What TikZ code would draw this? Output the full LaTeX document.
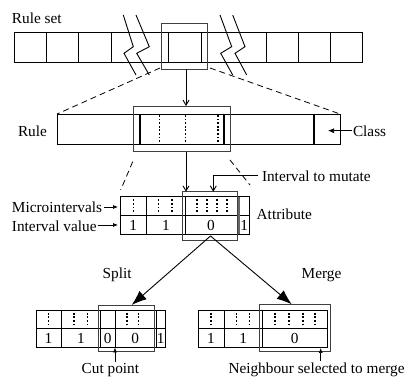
\documentclass[tikz,border=0pt]{standalone}
\usepackage{fontspec}
\setmainfont{Liberation Serif}
\usetikzlibrary{arrows.meta,fit,calc}
\begin{document}
\begin{tikzpicture}[x=1pt,y=-1pt,line width=0.9pt,
  lbl/.style={font=\fontsize{15.3}{18}\selectfont, inner sep=0pt, outer sep=0pt, anchor=base west},
  num/.style={lbl, anchor=base},
  hl/.style={draw=black!75, line width=0.9pt, inner sep=0pt, outer sep=0pt},
  plainbox/.style={draw, inner sep=0pt, outer sep=0pt},
  dots/.style={line width=1.6pt, dash pattern=on 1.8pt off 1.8pt},
  heavy/.style={line width=2.2pt},
  zoomline/.style={line width=0.8pt, dash pattern=on 6pt off 4pt},
  vtip/.style={-{Straight Barb[length=5pt,width=6pt]}},
  ptr/.style={-{Latex[length=5pt,width=4pt]}, line width=0.7pt},
  bigtip/.style={-{Latex[length=15pt,width=11pt]}, line width=0.9pt}]
\useasboundingbox (0,0) rectangle (413,379);

% ---------- rule set ----------
\node[lbl] (rulesetlbl) at (12,24) {Rule set};
\coordinate (rs1) at (14,32); \coordinate (rs2) at (362,62);
\node[plainbox, fit=(rs1)(rs2)] (ruleset) {};
\foreach \x in {46,78,111,168,201,266,298,330} \draw (\x,32) -- (\x,62);
% break marks
\draw (123.3,15)--(133.3,46.7)--(124,53.3)--(136,75);
\draw (136,15)--(149.3,46.7)--(136.7,53.3)--(149.3,75);
\draw (220,15)--(231.7,46.7)--(220.7,53.3)--(232.7,75);
\draw (232.7,15)--(245,46.7)--(235,53.3)--(246.7,75);
% selected rule
\coordinate (sc1) at (161.7,23.3); \coordinate (sc2) at (207.3,69.3);
\node[hl, fit=(sc1)(sc2)] (selcell) {};

% ---------- one rule ----------
\node[lbl] (rulelbl) at (18,136.5) {Rule};
\coordinate (r1) at (57,114); \coordinate (r2) at (340,144);
\node[plainbox, fit=(r1)(r2)] (rule) {};
\foreach \x in {140,224.3,314} \draw[heavy] (\x,114) -- (\x,144);
\foreach \x in {159.3,185.3,218} \draw[dots] (\x,115) -- (\x,143);
\coordinate (rh1) at (133.3,106); \coordinate (rh2) at (230,151.7);
\node[hl, fit=(rh1)(rh2)] (rulesel) {};
\node[lbl] (classlbl) at (353,136.7) {Class};
\coordinate (classpt) at (328,130.7);
\draw[-{Latex[length=6pt,width=5pt]}, line width=0.7pt] ($(classlbl.west |- classpt)+(-1,0)$) -- (classpt);

% zoom from rule set to rule
\coordinate (ax) at (186,0);
\draw[vtip] (selcell.south -| ax) -- (rulesel.north -| ax);
\coordinate (zl1) at (160,68); \coordinate (zr1) at (210,68);
\draw[zoomline] (zl1) -- (rule.north west);
\draw[zoomline] (zr1) -- (rule.north east);

% ---------- attribute ----------
\coordinate (a1) at (120.7,196.7); \coordinate (a2) at (249.3,234.3);
\node[plainbox, fit=(a1)(a2)] (attr) {};
\draw (120.7,215) -- (249.3,215);
\foreach \x in {146,185.3} \draw (\x,196.7) -- (\x,234.3);
\draw[line width=1.8pt, black!60] (239.3,196.7) -- (239.3,234.3);
\foreach \x in {133.3,158.3,171.7,196.7,206.7,216.7,226.7} \draw[dots] (\x,199.5) -- (\x,213);
\node[num] (v1) at (133.3,231) {1};
\node[num] (v2) at (166,231) {1};
\node[num] (v3) at (211,231) {0};
\node[num] (v4) at (244.3,231) {1};
\coordinate (ih1) at (182.7,191.7); \coordinate (ih2) at (237.3,240);
\node[hl, fit=(ih1)(ih2)] (intsel) {};
\node[lbl] (attrlbl) at (256.7,220) {Attribute};

\draw[vtip] (rulesel.south -| ax) -- (intsel.north -| ax);
\coordinate (dl1) at (132.7,161.7); \coordinate (dl2) at (120.7,190);
\coordinate (dr1) at (230,160); \coordinate (dr2) at (250,185);
\draw[zoomline] (dl1) -- (dl2);
\draw[zoomline] (dr1) -- (dr2);
\node[lbl] (mutlbl) at (262,181.5) {Interval to mutate};
\coordinate (mk) at (213.3,175);
\draw[vtip] ($(mutlbl.west |- mk)+(-4,0)$) -- (mk) -- (mk |- intsel.north);
\node[lbl] (microlbl) at (12,213) {Microintervals};
\node[lbl] (ivlbl) at (12,231.5) {Interval value};
\coordinate (mp) at (118,207); \coordinate (ip) at (118,225);
\draw[ptr] ($(microlbl.east |- mp)+(2,0)$) -- (mp);
\draw[ptr] ($(ivlbl.east |- ip)+(1,0)$) -- (ip);

% ---------- split ----------
\coordinate (sp1) at (36,310); \coordinate (sp2) at (165.5,347.3);
\node[plainbox, fit=(sp1)(sp2)] (splitt) {};
\draw (36,328.3) -- (165.5,328.3);
\foreach \x in {61.5,100.5,115,156} \draw (\x,310) -- (\x,347.3);
\foreach \x in {48.5,74,87.3,127,138.5} \draw[dots] (\x,312.8) -- (\x,326.5);
\node[num] (s1) at (48.5,343.5) {1};
\node[num] (s2) at (81,343.5) {1};
\node[num] (s3) at (107.8,343.5) {0};
\node[num] (s4) at (135.3,343.5) {0};
\node[num] (s5) at (160.8,343.5) {1};
\coordinate (sh1) at (98.3,305); \coordinate (sh2) at (154,351.3);
\node[hl, fit=(sh1)(sh2)] (splitsel) {};
\node[lbl] (splitlbl) at (102.7,278.5) {Split};
\node[lbl] (cutlbl) at (81.7,374) {Cut point};
\coordinate (cp) at (115,347.5);
\draw[ptr] ($(cp |- cutlbl.north)+(0,-2)$) -- (cp);

% ---------- merge ----------
\coordinate (mg1) at (198.3,310); \coordinate (mg2) at (327,347.3);
\node[plainbox, fit=(mg1)(mg2)] (merget) {};
\draw (198.3,328.3) -- (327,328.3);
\foreach \x in {224,262.5} \draw (\x,310) -- (\x,347.3);
\foreach \x in {211,236.5,249.5,275,289,303,315} \draw[dots] (\x,312.8) -- (\x,326.5);
\node[num] (m1) at (211,343.5) {1};
\node[num] (m2) at (243.3,343.5) {1};
\node[num] (m3) at (294.7,343.5) {0};
\coordinate (mh1) at (259.3,304.3); \coordinate (mh2) at (330.7,351.3);
\node[hl, fit=(mh1)(mh2)] (mergesel) {};
\node[lbl] (mergelbl) at (301.7,278.5) {Merge};
\node[lbl] (nblbl) at (228.5,374) {Neighbour selected to merge};
\coordinate (np) at (320.7,348);
\draw[ptr] ($(np |- nblbl.north)+(0,-2)$) -- (np);

% ---------- mutation arrows ----------
\coordinate (src) at (210.5,236);
\coordinate (splitx) at (131.7,0);
\coordinate (mergex) at (291.7,0);
\draw[bigtip] (src) -- (splitsel.north -| splitx);
\draw[bigtip] (src) -- (mergesel.north -| mergex);
\end{tikzpicture}
\end{document}
